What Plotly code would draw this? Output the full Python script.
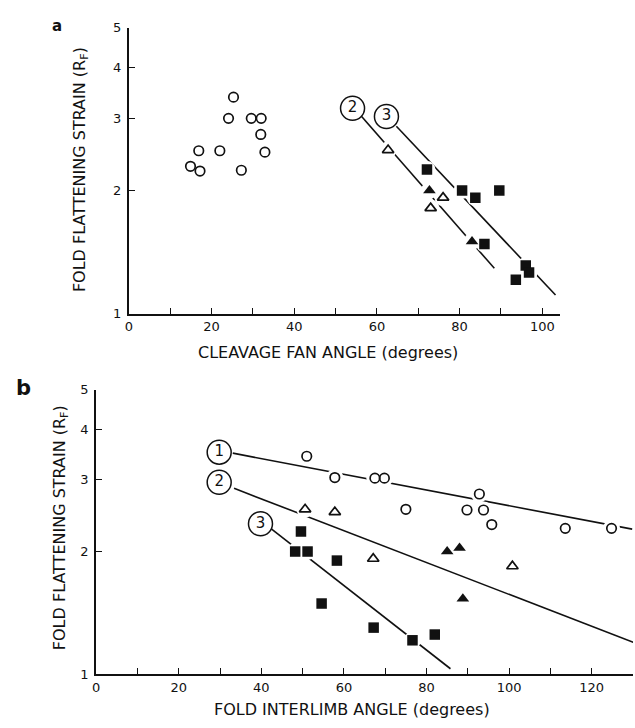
import math
import plotly.graph_objects as go

INK = "#111111"
FONT = "DejaVu Sans"

# ---- Panel a: fold flattening strain vs cleavage fan angle ----
a_circle_x = [14.9, 16.9, 17.2, 22.0, 24.1, 25.3, 27.2, 29.6, 32.0, 31.9, 32.9]
a_circle_y = [2.29, 2.50, 2.23, 2.50, 3.00, 3.38, 2.24, 3.00, 3.00, 2.74, 2.48]
a_open_tri_x = [62.7, 73.0, 76.0]
a_open_tri_y = [2.51, 1.81, 1.92]
a_fill_tri_x = [72.7, 83.0]
a_fill_tri_y = [2.00, 1.50]
a_square_x = [72.1, 80.6, 83.8, 89.6, 86.0, 96.0, 96.8, 93.6]
a_square_y = [2.25, 2.00, 1.92, 2.00, 1.48, 1.31, 1.26, 1.21]
# trend lines (start, end)
a_line2_x = [56.3, 88.4]
a_line2_y = [3.03, 1.29]
a_line3_x = [64.7, 103.2]
a_line3_y = [2.87, 1.11]
a_label_text = ["2", "3"]
a_label_x = [54.1, 62.3]
a_label_y = [3.175, 3.03]

# ---- Panel b: fold flattening strain vs fold interlimb angle ----
b_circle_x = [51.0, 57.8, 67.5, 69.8, 75.0, 89.8, 92.8, 93.8, 95.8, 113.6, 124.8]
b_circle_y = [3.43, 3.04, 3.03, 3.03, 2.54, 2.53, 2.77, 2.53, 2.33, 2.28, 2.28]
b_open_tri_x = [50.6, 57.8, 67.1, 100.8]
b_open_tri_y = [2.54, 2.50, 1.92, 1.84]
b_fill_tri_x = [85.0, 88.0, 88.8]
b_fill_tri_y = [2.00, 2.04, 1.53]
b_square_x = [48.2, 49.6, 51.2, 54.6, 58.3, 67.2, 76.6, 82.0]
b_square_y = [2.00, 2.24, 2.00, 1.49, 1.90, 1.30, 1.21, 1.25]
b_line1_x = [33.1, 129.8]
b_line1_y = [3.49, 2.27]
b_line2_x = [33.4, 130.2]
b_line2_y = [2.86, 1.195]
b_line3_x = [41.8, 85.8]
b_line3_y = [2.30, 1.03]
b_label_text = ["1", "2", "3"]
b_label_x = [29.8, 29.8, 39.8]
b_label_y = [3.51, 2.96, 2.34]

y_ticks = [1, 2, 3, 4, 5]
a_major_ticks = [0, 20, 40, 60, 80, 100]
a_minor_ticks = [10, 30, 50, 70, 90]
b_major_ticks = [0, 20, 40, 60, 80, 100, 120]
b_minor_ticks = [10, 30, 50, 70, 90, 110, 130]

fig = go.Figure()


def add_panel(xa, ya, lines, circles, open_tri, fill_tri, squares, labels):
    # trend lines
    for lx, ly in lines:
        fig.add_trace(go.Scatter(x=lx, y=ly, mode="lines", xaxis=xa, yaxis=ya,
                                 line=dict(color=INK, width=1.6),
                                 hoverinfo="skip", showlegend=False))
    # white halos that break the lines around each symbol
    hx, hy = [], []
    for px, py in (circles, open_tri, fill_tri, squares):
        hx += px
        hy += py
    fig.add_trace(go.Scatter(x=hx, y=hy, mode="markers", xaxis=xa, yaxis=ya,
                             marker=dict(symbol="circle", size=17, color="white",
                                         line=dict(width=0)),
                             hoverinfo="skip", showlegend=False))
    fig.add_trace(go.Scatter(x=circles[0], y=circles[1], mode="markers",
                             xaxis=xa, yaxis=ya,
                             marker=dict(symbol="circle-open", size=9.5, color=INK,
                                         line=dict(width=1.7, color=INK)),
                             showlegend=False))
    fig.add_trace(go.Scatter(x=open_tri[0], y=open_tri[1], mode="markers",
                             xaxis=xa, yaxis=ya,
                             marker=dict(symbol="triangle-up-open", size=10, color=INK,
                                         line=dict(width=1.7, color=INK)),
                             showlegend=False))
    fig.add_trace(go.Scatter(x=fill_tri[0], y=fill_tri[1], mode="markers",
                             xaxis=xa, yaxis=ya,
                             marker=dict(symbol="triangle-up", size=11, color=INK,
                                         line=dict(width=0)),
                             showlegend=False))
    fig.add_trace(go.Scatter(x=squares[0], y=squares[1], mode="markers",
                             xaxis=xa, yaxis=ya,
                             marker=dict(symbol="square", size=10.5, color=INK,
                                         line=dict(width=0)),
                             showlegend=False))
    # circled line numbers
    fig.add_trace(go.Scatter(x=labels[1], y=labels[2], text=labels[0],
                             mode="markers+text", textposition="middle center",
                             xaxis=xa, yaxis=ya,
                             textfont=dict(family=FONT, size=15, color=INK),
                             marker=dict(symbol="circle", size=24, color="white",
                                         line=dict(width=1.5, color=INK)),
                             hoverinfo="skip", showlegend=False))


add_panel("x", "y",
          [(a_line2_x, a_line2_y), (a_line3_x, a_line3_y)],
          (a_circle_x, a_circle_y), (a_open_tri_x, a_open_tri_y),
          (a_fill_tri_x, a_fill_tri_y), (a_square_x, a_square_y),
          (a_label_text, a_label_x, a_label_y))
add_panel("x2", "y2",
          [(b_line1_x, b_line1_y), (b_line2_x, b_line2_y), (b_line3_x, b_line3_y)],
          (b_circle_x, b_circle_y), (b_open_tri_x, b_open_tri_y),
          (b_fill_tri_x, b_fill_tri_y), (b_square_x, b_square_y),
          (b_label_text, b_label_x, b_label_y))

W, H = 635, 728
tickfont = dict(family=FONT, size=13, color=INK)


def x_axis(major, minor):
    return dict(showgrid=False, zeroline=False, showline=True, linecolor=INK,
                linewidth=2, ticks="inside", ticklen=6, tickwidth=1.3,
                tickcolor=INK, tickfont=tickfont,
                tickvals=major, ticktext=[str(v) for v in major],
                minor=dict(tickvals=minor, ticks="inside", ticklen=6,
                           tickwidth=1.3, tickcolor=INK, showgrid=False))


y_common = dict(type="log", range=[0, math.log10(5)], tickvals=y_ticks,
                ticktext=[str(v) for v in y_ticks], showgrid=False,
                zeroline=False, showline=True, linecolor=INK, linewidth=2,
                ticks="inside", ticklen=6, tickwidth=1.3, tickcolor=INK,
                tickfont=tickfont, ticklabelstandoff=3)

fig.update_layout(
    width=W, height=H, autosize=False,
    margin=dict(l=0, r=0, t=0, b=0),
    paper_bgcolor="white", plot_bgcolor="white",
    xaxis=dict(domain=[125.7 / W, (125.7 + 104.4 * 4.16) / W], range=[0, 104.4],
               anchor="y", **x_axis(a_major_ticks, a_minor_ticks)),
    yaxis=dict(domain=[1 - 313 / H, 1 - 21 / H], anchor="x", **y_common),
    xaxis2=dict(domain=[92.7 / W, 633 / W], range=[0, 130],
                anchor="y2", **x_axis(b_major_ticks, b_minor_ticks)),
    yaxis2=dict(domain=[1 - 681 / H, 1 - 390.7 / H], anchor="x2", **y_common),
)

title_font = dict(family=FONT, size=16, color=INK)
annotations = [
    dict(text="FOLD FLATTENING STRAIN (R<sub>F</sub>)", x=77 / W, y=1 - 166 / H,
         textangle=-90, font=title_font),
    dict(text="CLEAVAGE FAN ANGLE (degrees)", x=326 / W, y=1 - 353 / H,
         font=title_font),
    dict(text="FOLD FLATTENING STRAIN (R<sub>F</sub>)", x=57 / W, y=1 - 531.5 / H,
         textangle=-90, font=title_font),
    dict(text="FOLD INTERLIMB ANGLE (degrees)", x=350 / W, y=1 - 717 / H,
         font=title_font),
    dict(text="a", x=53 / W, y=1 - 19 / H,
         font=dict(family=FONT, size=15, color=INK, weight="bold")),
    dict(text="b", x=20 / W, y=1 - 389 / H,
         font=dict(family=FONT, size=21, color=INK, weight="bold")),
]
for ann in annotations:
    ann.update(xref="paper", yref="paper", showarrow=False,
               xanchor="center", yanchor="middle")
fig.update_layout(annotations=annotations)

fig.write_html("out.html")
